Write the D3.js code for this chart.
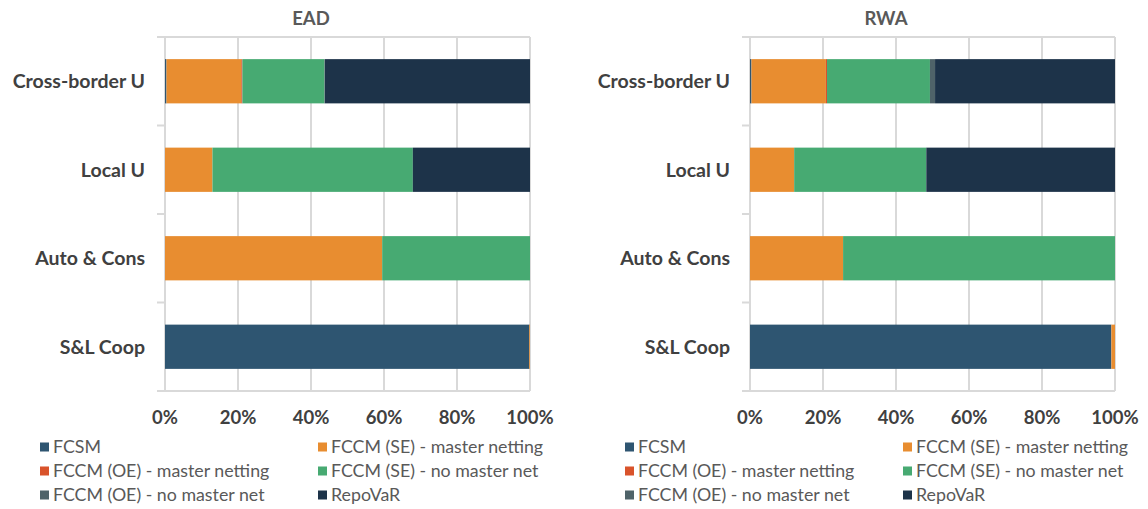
<!DOCTYPE html>
<html>
<head>
<meta charset="utf-8">
<script src="https://d3js.org/d3.v7.min.js"></script>
<style>
  body { margin: 0; background: #fff; }
  svg text { font-family: Lato, "Open Sans", sans-serif; }
</style>
</head>
<body>
<div id="chart"></div>
<script>
// categories, top to bottom
var categories = ["Cross-border U", "Local U", "Auto & Cons", "S&L Coop"];
var seriesNames = ["FCSM", "FCCM (SE) - master netting", "FCCM (OE) - master netting",
                   "FCCM (SE) - no master net", "FCCM (OE) - no master net", "RepoVaR"];
var seriesColors = ["#2e5571", "#e88d30", "#d9532b", "#47aa72", "#4f6369", "#1d3349"];
var tickLabels = ["0%", "20%", "40%", "60%", "80%", "100%"];

// EAD shares (%), per series, in category order
var eadFCSM      = [0.4, 0, 0, 99.8];
var eadSEMaster  = [20.5, 13.0, 59.5, 0.2];
var eadOEMaster  = [0.3, 0, 0, 0];
var eadSENoNet   = [22.5, 54.9, 40.5, 0];
var eadOENoNet   = [0.1, 0, 0, 0];
var eadRepoVaR   = [56.2, 32.1, 0, 0];

// RWA shares (%)
var rwaFCSM      = [0.4, 0, 0, 99.0];
var rwaSEMaster  = [20.4, 12.1, 25.5, 1.0];
var rwaOEMaster  = [0.3, 0, 0, 0];
var rwaSENoNet   = [28.2, 36.2, 74.5, 0];
var rwaOENoNet   = [1.4, 0, 0, 0];
var rwaRepoVaR   = [49.3, 51.7, 0, 0];

var width = 1148, height = 509;

var svg = d3.select("#chart").append("svg")
    .attr("width", width)
    .attr("height", height);

function buildRows(cols) {
  return categories.map(function(c, i) {
    var row = {cat: c};
    seriesNames.forEach(function(s, j) { row[s] = cols[j][i]; });
    return row;
  });
}

function drawPanel(opts) {
  var g = svg.append("g");
  var x = d3.scaleLinear().domain([0, 100]).range([opts.left, opts.right]);
  var y = d3.scaleBand().domain(categories).range([opts.top, opts.bottom])
      .paddingInner(0.5).paddingOuter(0.25);
  var gridColor = "#d9d9d9";

  // title
  g.append("text")
    .attr("x", opts.titleX).attr("y", 25)
    .attr("text-anchor", "middle")
    .attr("font-size", 18.5).attr("font-weight", 700)
    .attr("fill", "#595959")
    .text(opts.title);

  // vertical gridlines
  g.selectAll(".grid").data(d3.range(0, 101, 20)).enter().append("line")
    .attr("x1", function(d) { return x(d); }).attr("x2", function(d) { return x(d); })
    .attr("y1", opts.top).attr("y2", opts.bottom)
    .attr("stroke", gridColor).attr("stroke-width", 2);

  // category axis: boundaries with small ticks at the left
  var bounds = d3.range(categories.length + 1).map(function(i) {
    return opts.top + i * (opts.bottom - opts.top) / categories.length;
  });
  g.selectAll(".ctick").data(bounds).enter().append("line")
    .attr("x1", opts.left - 8).attr("x2", opts.left)
    .attr("y1", function(d) { return d; }).attr("y2", function(d) { return d; })
    .attr("stroke", gridColor).attr("stroke-width", 2);
  g.append("line")
    .attr("x1", opts.left).attr("x2", opts.right)
    .attr("y1", opts.top).attr("y2", opts.top)
    .attr("stroke", gridColor).attr("stroke-width", 2);
  g.append("line")
    .attr("x1", opts.left).attr("x2", opts.right)
    .attr("y1", opts.bottom).attr("y2", opts.bottom)
    .attr("stroke", gridColor).attr("stroke-width", 2);

  // stacked bars
  var rows = buildRows(opts.cols);
  var stacked = d3.stack().keys(seriesNames)(rows);
  g.selectAll(".series").data(stacked).enter().append("g")
    .attr("fill", function(d, i) { return seriesColors[i]; })
    .selectAll("rect").data(function(d) { return d; }).enter().append("rect")
      .attr("x", function(d) { return x(d[0]); })
      .attr("width", function(d) { return Math.max(0, x(d[1]) - x(d[0])); })
      .attr("y", function(d) { return y(d.data.cat); })
      .attr("height", y.bandwidth());

  // category labels
  g.selectAll(".clabel").data(categories).enter().append("text")
    .attr("x", opts.left - 20)
    .attr("y", function(d) { return y(d) + y.bandwidth() / 2; })
    .attr("dy", "0.35em")
    .attr("text-anchor", "end")
    .attr("font-size", 19.5).attr("font-weight", 700)
    .attr("fill", "#404040")
    .text(function(d) { return d; });

  // value axis labels
  g.selectAll(".xlabel").data(tickLabels).enter().append("text")
    .attr("x", function(d, i) { return x(i * 20); })
    .attr("y", opts.bottom + 27)
    .attr("dy", "0.35em")
    .attr("text-anchor", "middle")
    .attr("font-size", 18.5).attr("font-weight", 700)
    .attr("fill", "#404040")
    .text(function(d) { return d; });

  // legend, two columns
  var leg = g.selectAll(".leg").data(seriesNames).enter().append("g")
    .attr("transform", function(d, i) {
      var col = i % 2, row = Math.floor(i / 2);
      return "translate(" + (opts.legX + col * opts.legColW) + "," + (447 + row * 24) + ")";
    });
  leg.append("rect")
    .attr("x", 0).attr("y", -4.5).attr("width", 9).attr("height", 9)
    .attr("fill", function(d, i) { return seriesColors[i]; });
  leg.append("text")
    .attr("x", 13).attr("dy", "0.35em")
    .attr("font-size", 17.8)
    .attr("fill", "#595959")
    .text(function(d) { return d; });
}

drawPanel({
  title: "EAD", titleX: 311,
  left: 165, right: 530, top: 37, bottom: 391,
  legX: 40, legColW: 278,
  cols: [eadFCSM, eadSEMaster, eadOEMaster, eadSENoNet, eadOENoNet, eadRepoVaR]
});

drawPanel({
  title: "RWA", titleX: 886,
  left: 750, right: 1115, top: 37, bottom: 391,
  legX: 625, legColW: 278,
  cols: [rwaFCSM, rwaSEMaster, rwaOEMaster, rwaSENoNet, rwaOENoNet, rwaRepoVaR]
});
</script>
</body>
</html>
